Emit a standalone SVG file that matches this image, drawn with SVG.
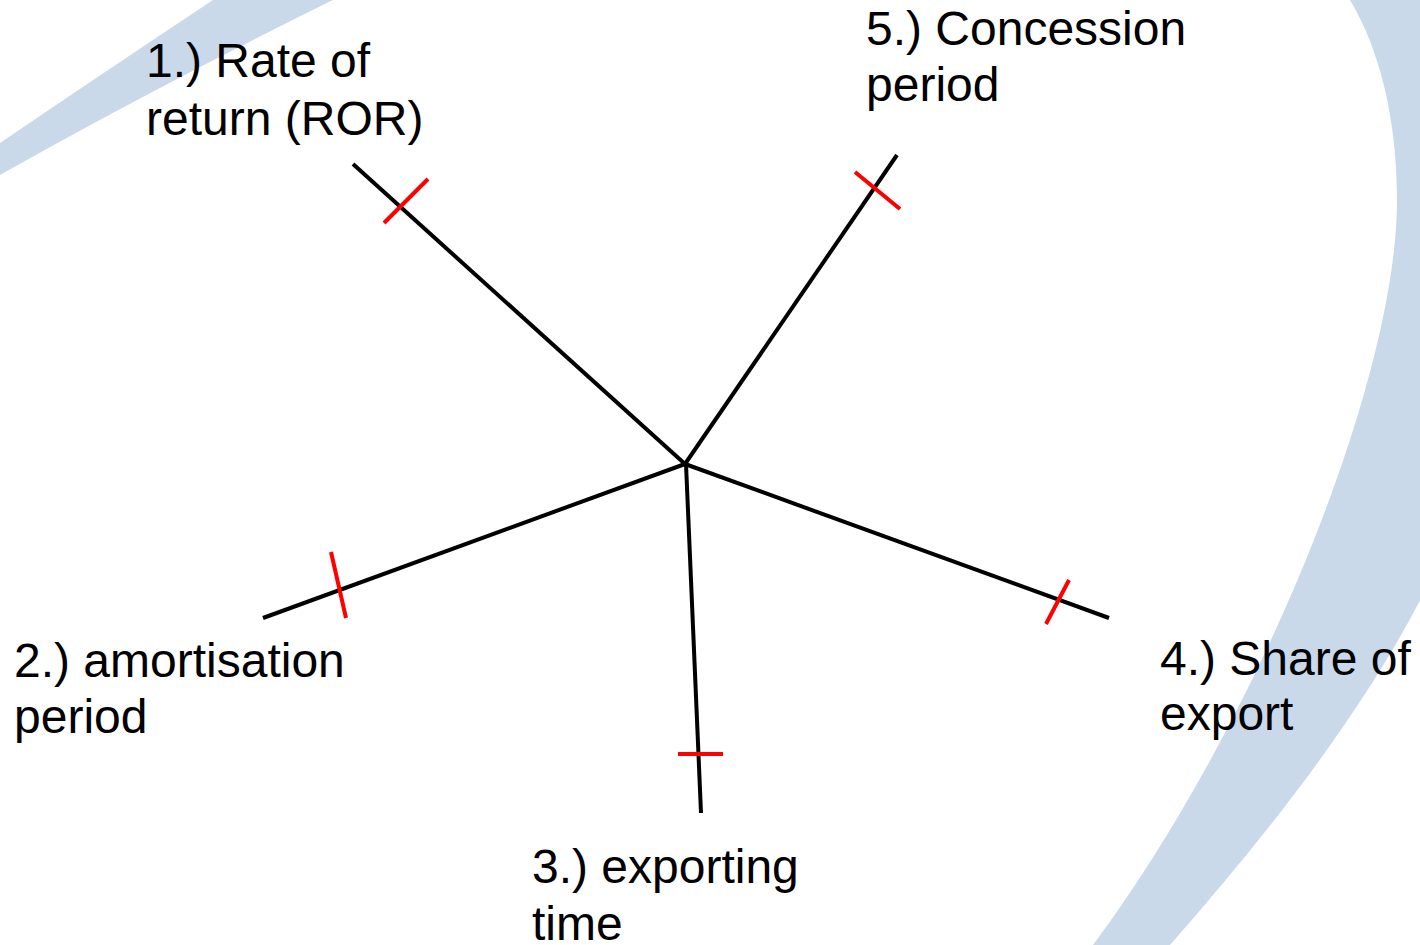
<svg xmlns="http://www.w3.org/2000/svg" width="1420" height="945" viewBox="0 0 1420 945">
<style>
.bg{fill:#CAD9EA;stroke:none}
.spoke{stroke:#000;stroke-width:4;fill:none}
.tick{stroke:#FF0000;stroke-width:4;fill:none}
.lbl{font-family:"Liberation Sans",Arial,sans-serif;font-size:48px;fill:#000}
</style>
<rect width="1420" height="945" fill="#FFFFFF"/>
<g id="background">
<path class="bg" d="M0,143 Q100,75 213,0 L333,0 Q150,90 0,175 Z"/>
<path class="bg" d="M1350,0 C1380,50 1397,120 1397,200 C1397,380 1260,720 1093,945 L1170,945 C1280,820 1380,690 1440,560 L1440,0 Z"/>
</g>
<g id="connectors">
<line class="spoke" x1="685" y1="464" x2="353" y2="164"/>
<line class="spoke" x1="685" y1="464" x2="897" y2="155"/>
<line class="spoke" x1="685" y1="464" x2="263" y2="618"/>
<line class="spoke" x1="686" y1="464" x2="701" y2="813"/>
<line class="spoke" x1="685" y1="464" x2="1109" y2="618"/>
<line class="tick" x1="384" y1="223" x2="428" y2="179"/>
<line class="tick" x1="855" y1="172" x2="900" y2="209"/>
<line class="tick" x1="331" y1="552" x2="346" y2="618"/>
<line class="tick" x1="678" y1="754" x2="723" y2="754"/>
<line class="tick" x1="1046" y1="624" x2="1069" y2="580"/>
</g>
<g id="node1">
<text class="lbl" x="146" y="77">1.) Rate of</text>
<text class="lbl" x="146" y="135">return (ROR)</text>
</g>
<g id="node2">
<text class="lbl" x="14" y="677">2.) amortisation</text>
<text class="lbl" x="14" y="733">period</text>
</g>
<g id="node3">
<text class="lbl" x="532" y="883">3.) exporting</text>
<text class="lbl" x="532" y="940">time</text>
</g>
<g id="node4">
<text class="lbl" x="1160" y="675">4.) Share of</text>
<text class="lbl" x="1160" y="730">export</text>
</g>
<g id="node5">
<text class="lbl" x="866" y="45">5.) Concession</text>
<text class="lbl" x="866" y="101">period</text>
</g>
</svg>
